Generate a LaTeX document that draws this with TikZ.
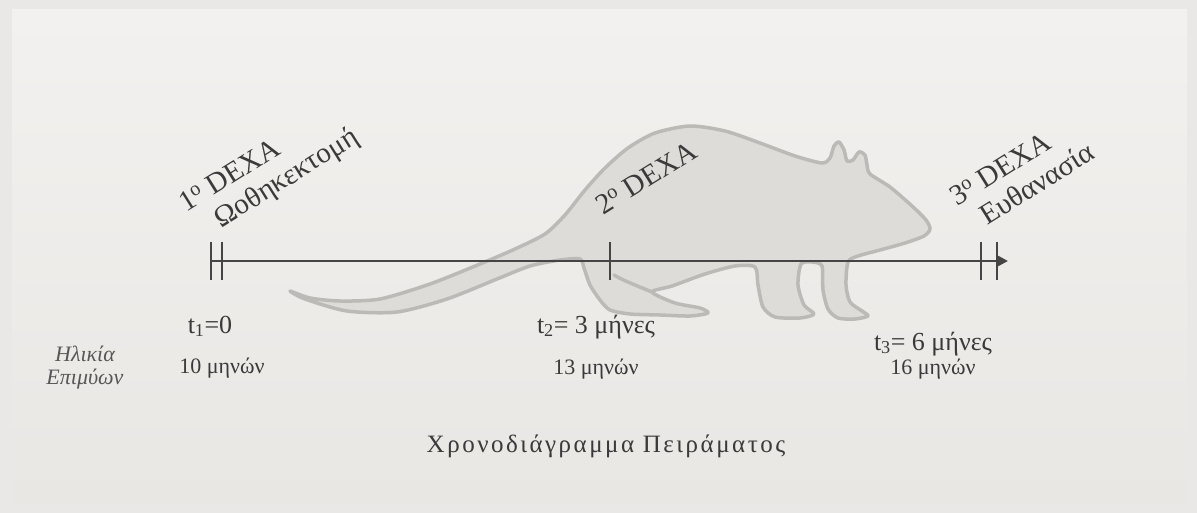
\documentclass[tikz,border=0pt]{standalone}
\usepackage{fontspec}
\setmainfont{Liberation Serif}
\usetikzlibrary{arrows.meta}
\definecolor{ink}{HTML}{3A3A3A}
\definecolor{axiscol}{HTML}{454545}
\definecolor{ratfill}{HTML}{DDDCD9}
\definecolor{ratline}{HTML}{BBBAB7}
\definecolor{bgtop}{HTML}{F2F1EF}
\definecolor{bgbot}{HTML}{E8E7E4}
\definecolor{bgedge}{HTML}{E9E8E6}

\begin{document}
\begin{tikzpicture}[x=1pt,y=-1pt,
  every node/.style={inner sep=0pt, outer sep=0pt, text=ink},
  axisline/.style={draw=axiscol, line width=2.4pt},
  tickmark/.style={draw=axiscol, line width=2pt},
  event/.style={font=\fontsize{29}{32}\selectfont, rotate=32, anchor=base west, align=left},
  when/.style={font=\fontsize{26}{28}\selectfont, anchor=base},
  age/.style={font=\fontsize{22}{24}\selectfont, anchor=base},
  agehead/.style={font=\itshape\fontsize{22}{23}\selectfont, anchor=base, align=center, text=ink!85},
  caption/.style={font=\fontsize{25}{27}\selectfont\addfontfeature{LetterSpace=10}, anchor=base},
  rat/.style={fill=ratfill, draw=ratline, line width=3.5pt, line join=round},
  ratcrease/.style={draw=ratline, line width=3.5pt, line cap=round}
]
\useasboundingbox (0,0) rectangle (1197,513);

% backdrop
\fill[bgedge] (0,0) rectangle (1197,513);
\shade[top color=bgtop, bottom color=bgbot] (12,10) rectangle (1187,503);

% rat silhouette behind the timeline
\draw[rat] plot[smooth cycle, tension=0.45] coordinates {
  (290,291) (310,298) (340,301) (380,299) (430,284) (480,264) (515,249) (545,234)
  (565,215) (585,190) (605,168) (628,148) (655,133) (690,126) (725,131) (760,143)
  (795,156) (822,163)
  (830,158) (834,146) (839,142) (844,150) (847,161)
  (853,160) (859,152) (865,155) (867,165) (870,174)
  (890,187) (912,206) (926,220) (930,229) (924,236) (905,243) (880,250) (858,256)
  (848,262) (846,285) (850,302) (862,311) (868,316) (855,319) (838,318) (828,309)
  (823,290) (822,266)
  (812,262)
  (801,264) (798,285) (804,305) (814,314) (800,318) (775,317) (763,307) (758,285)
  (755,267)
  (735,266) (705,274) (672,286) (652,292)
  (675,303) (700,308) (708,313) (690,316) (660,315) (630,314) (610,310)
  (600,300) (590,285) (584,268) (580,259)
  (560,260) (530,266) (497,279) (447,299) (397,312) (347,311) (305,299)
};
\draw[ratcrease] (652,292) .. controls (635,285) and (622,280) .. (614,275);

% timeline
\coordinate (start) at (211,261);
\coordinate (finish) at (1008,261);
\coordinate (t1a) at (211,261);
\coordinate (t1b) at (222,261);
\coordinate (t2) at (610,261);
\coordinate (t3a) at (981,261);
\coordinate (t3b) at (997,261);
\draw[axisline, -{Triangle[length=10pt,width=10pt]}] (start) -- (finish);
\foreach \t in {t1a,t1b,t2,t3a,t3b}
  \draw[tickmark] (\t) ++(0,-19) -- ++(0,38);

% events above the line (anchor sits on the baseline of the last line)
\node[event] (ev1) at (203,240) {1\textsuperscript{o} DEXA\\\hspace*{22pt}Ωοθηκεκτομή};
\node[event] (ev2) at (603,216) {2\textsuperscript{o} DEXA};
\node[event] (ev3) at (974,234) {3\textsuperscript{o} DEXA\\\hspace*{16pt}Ευθανασία};

% times and ages below the line
\node[when] (w1) at (210,333) {t\textsubscript{1}=0};
\node[when] (w2) at (596,333) {t\textsubscript{2}= 3 μήνες};
\node[when] (w3) at (933,350) {t\textsubscript{3}= 6 μήνες};
\node[age] (a1) at (222,373) {10 μηνών};
\node[age] (a2) at (596,374) {13 μηνών};
\node[age] (a3) at (933,374) {16 μηνών};
\node[agehead] (h1) at (85,384) {Ηλικία\\Επιμύων};

% caption
\node[caption] (title) at (606,452) {Χρονοδιάγραμμα Πειράματος};
\end{tikzpicture}
\end{document}
